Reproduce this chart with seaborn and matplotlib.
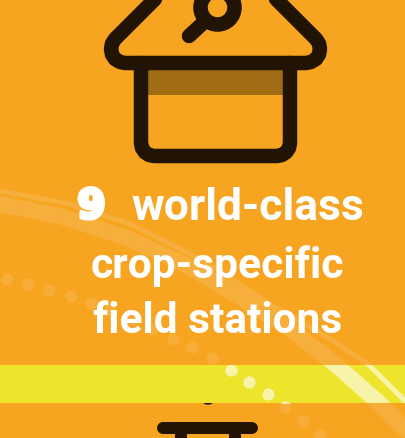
import pandas as pd
import matplotlib.pyplot as plt
import matplotlib.patheffects as pe
from matplotlib.patches import Circle, Rectangle
import seaborn as sns

# Colours
ORANGE = "#f7a421"
YELLOW = "#ede52c"
DARK = "#211405"
BAND = "#a06d14"

# Icon outlines, pixel positions on the 405x439 picture
roof_x = [256, 316, 319, 320, 319, 316, 311, 306, 125, 120, 115, 112, 111, 112, 115, 175]
roof_y = [-20, 40, 44.6, 50, 55.4, 60, 63, 64, 64, 63, 60, 55.4, 50, 44.6, 40, -20]
body_x = [141, 141, 142, 144.8, 149, 154, 277, 282, 286.2, 289, 290, 290]
body_y = [64, 144, 149, 153.2, 156, 157, 157, 156, 153.2, 149, 144, 64]
handle_x = [189, 202]
handle_y = [37, 25]

# Streaks in the background
wide_x = [0, 60, 130, 190, 240, 290, 335, 378, 415]
wide_y = [205, 217, 240, 268, 298, 330, 365, 403, 440]
thin_x = [-5, 70, 130, 200, 270, 330, 368, 415]
thin_y = [191, 205, 225, 260, 305, 340, 365, 412]

# Dots in the background
dot_x = [7, 28, 49, 71, 91, 110, 132, 152, 173, 192, 212, 231, 249, 268, 285, 303, 320]
dot_y = [280, 285, 291, 297, 304, 311, 320, 330, 340, 348, 359, 371, 383, 395, 408, 422, 436]

# Text lines
number = "9"
lines = ["world-class", "crop-specific", "field stations"]

sns.set_theme(style="white")
plt.rcParams["font.family"] = ["Roboto", "Liberation Sans", "DejaVu Sans"]

fig = plt.figure(figsize=(4.05, 4.39), dpi=100, facecolor=ORANGE)
ax = fig.add_axes([0, 0, 1, 1])
ax.set_xlim(0, 405)
ax.set_ylim(439, 0)
ax.axis("off")


def stroke(x, y, width, color=DARK, alpha=1, zorder=5, clip=None, cap="round"):
    # line widths are given in pixels of the picture
    data = pd.DataFrame({"x": x, "y": y})
    sns.lineplot(data=data, x="x", y="y", sort=False, estimator=None, ax=ax,
                 color=color, alpha=alpha, linewidth=width * 0.72, zorder=zorder,
                 solid_capstyle=cap, solid_joinstyle="round", legend=False)
    line = ax.lines[-1]
    if clip is not None:
        line.set_clip_path(clip)


# background streaks and dots on the orange
stroke(wide_x, wide_y, 16, color="white", alpha=0.12, zorder=1)
stroke(thin_x, thin_y, 5, color="white", alpha=0.12, zorder=1)
sns.scatterplot(x=dot_x, y=dot_y, s=78, color="white", alpha=0.1, linewidth=0, ax=ax, zorder=1)

# small dark tip that pokes out under the yellow band
ax.add_patch(Circle((208, 398), 7, color=DARK, zorder=2))

# yellow band, with the same streaks brighter on top of it
band = Rectangle((0, 365.6), 405, 38, facecolor=YELLOW, edgecolor="none", zorder=3)
ax.add_patch(band)
stroke(wide_x, wide_y, 16, color="white", alpha=0.6, zorder=4, clip=band)
stroke(thin_x, thin_y, 5, color="white", alpha=0.6, zorder=4, clip=band)
dots = sns.scatterplot(x=dot_x, y=dot_y, s=78, color="white", alpha=0.6, linewidth=0, ax=ax, zorder=4)
dots.collections[-1].set_clip_path(band)

# house icon
ax.add_patch(Rectangle((148, 71), 135, 25, facecolor=BAND, edgecolor="none", zorder=4))
stroke(roof_x, roof_y, 14.5)
stroke(body_x, body_y, 14.5)
ax.add_patch(Circle((217.5, 8.5), 17, facecolor="none", edgecolor=DARK, linewidth=14.5 * 0.72, zorder=5))
stroke(handle_x, handle_y, 14.5)

# next icon, cut off at the bottom
stroke([163, 252], [429, 429], 12)
stroke([180.5, 180.5], [429, 445], 12, cap="butt")
stroke([235, 235], [429, 445], 12, cap="butt")

# text
heavy = [pe.withStroke(linewidth=3, foreground="white")]
ax.text(91.5, 219, number, color="white", fontsize=29, fontweight="bold", family="DejaVu Sans",
        ha="center", va="baseline", zorder=6, path_effects=heavy)
for line, cx, base, size in zip(lines, [248, 217.5, 217.5], [220, 278, 333], [32, 30.7, 30.5]):
    ax.text(cx, base, line, color="white", fontsize=size, fontweight="bold",
            ha="center", va="baseline", zorder=6)

fig.savefig("out.png", dpi=100, facecolor=ORANGE)
plt.close(fig)
